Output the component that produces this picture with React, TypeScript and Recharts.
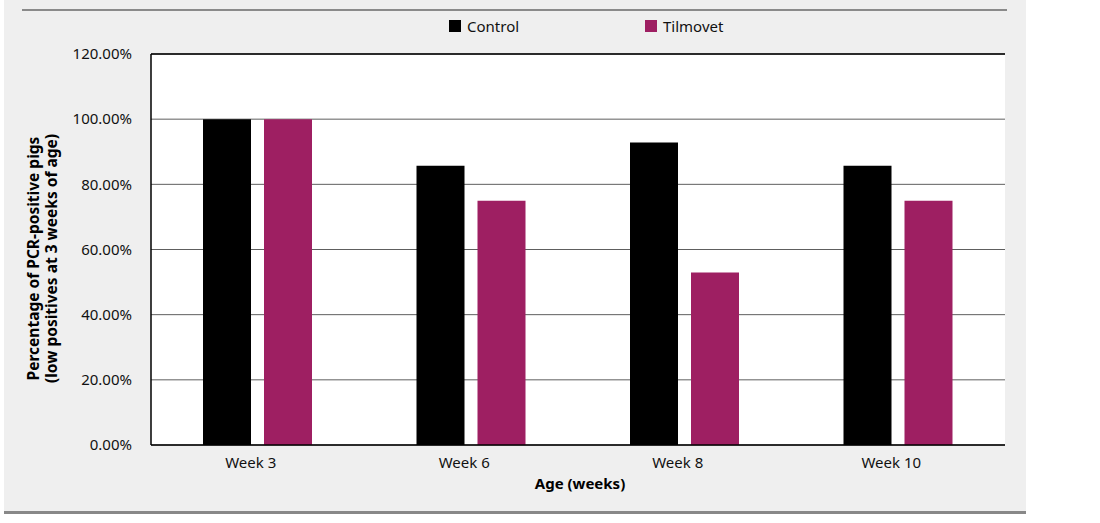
import React from 'react';
import { BarChart, Bar, XAxis, YAxis, CartesianGrid, ReferenceLine, Legend } from 'recharts';

const categories = ['Week 3', 'Week 6', 'Week 8', 'Week 10'];
const controlValues = [100, 85.71, 92.86, 85.71];
const tilmovetValues = [100, 75, 52.94, 75];
const yTicks = [0, 20, 40, 60, 80, 100, 120];

const data = categories.map((c, i) => ({ week: c, control: controlValues[i], tilmovet: tilmovetValues[i] }));

const FONT = '"Noto Sans", "Open Sans", sans-serif';
const CONTROL_COLOR = '#000000';
const TILMOVET_COLOR = '#9e1f62';

const legendItems = [
  { name: 'Control', color: CONTROL_COLOR, left: 449 },
  { name: 'Tilmovet', color: TILMOVET_COLOR, left: 645 },
];

const LegendContent = () => (
  <div style={{ position: 'relative', height: 0, width: 1100 }}>
    {legendItems.map((it) => (
      <div
        key={it.name}
        style={{
          position: 'absolute',
          left: it.left,
          top: 0,
          display: 'flex',
          alignItems: 'center',
          fontFamily: FONT,
          fontSize: 15,
          color: '#111',
          whiteSpace: 'nowrap',
          lineHeight: '20px',
        }}
      >
        <span style={{ display: 'inline-block', width: 12, height: 12, background: it.color, marginRight: 6 }} />
        {it.name}
      </div>
    ))}
  </div>
);

const YLabel = (props: any) => {
  const vb = props.viewBox || { x: 0, y: 54, width: 151, height: 391 };
  const cy = vb.y + vb.height / 2 + 9;
  return (
    <g>
      <text
        x={33}
        y={cy}
        transform={`rotate(-90 33 ${cy})`}
        textAnchor="middle"
        dominantBaseline="central"
        fontFamily={FONT}
        fontSize={15.5}
        fontWeight="bold"
        fill="#000"
      >
        Percentage of PCR-positive pigs
      </text>
      <text
        x={51}
        y={cy}
        transform={`rotate(-90 51 ${cy})`}
        textAnchor="middle"
        dominantBaseline="central"
        fontFamily={FONT}
        fontSize={15.5}
        fontWeight="bold"
        fill="#000"
      >
        (low positives at 3 weeks of age)
      </text>
    </g>
  );
};

const XLabel = (props: any) => {
  const vb = props.viewBox || { x: 151, y: 445, width: 854, height: 78 };
  return (
    <text
      x={vb.x + vb.width / 2 + 2}
      y={483}
      textAnchor="middle"
      dominantBaseline="central"
      fontFamily={FONT}
      fontSize={15}
      fontWeight="bold"
      fill="#000"
    >
      Age (weeks)
    </text>
  );
};

export default function App() {
  return (
    <div style={{ position: 'absolute', left: 0, top: 0, width: 1100, height: 523, background: '#ffffff', overflow: 'hidden' }}>
      <div
        style={{
          position: 'absolute',
          left: 4,
          top: 0,
          width: 1022,
          height: 511,
          background: '#efefef',
          borderBottom: '3px solid #888888',
        }}
      />
      <div style={{ position: 'absolute', left: 22, top: 9, width: 985, height: 2, background: '#8a8a8a' }} />
      <div style={{ position: 'absolute', left: 0, top: 0 }}>
        <BarChart
          width={1100}
          height={523}
          data={data}
          margin={{ top: 54, right: 95, bottom: 0, left: 0 }}
          barSize={48}
          barGap={13}
        >
          <CartesianGrid vertical={false} stroke="#5e5e5e" fill="#ffffff" yAxisId="left" />
          <Legend
            verticalAlign="top"
            align="left"
            content={<LegendContent />}
            wrapperStyle={{ top: 16, left: 0, height: 0 }}
          />
          <XAxis
            dataKey="week"
            height={78}
            tickLine={false}
            tickSize={0}
            tickMargin={12}
            axisLine={{ stroke: '#000', strokeWidth: 1.5 }}
            tick={{ fontFamily: FONT, fontSize: 15, fill: '#111', dx: -7 }}
            label={<XLabel />}
          />
          <YAxis
            yAxisId="left"
            width={151}
            domain={[0, 120]}
            ticks={yTicks}
            interval={0}
            tickLine={false}
            tickSize={0}
            tickMargin={19}
            axisLine={{ stroke: '#000', strokeWidth: 1.5 }}
            tickFormatter={(v: number) => v.toFixed(2) + '%'}
            tick={{ fontFamily: FONT, fontSize: 15, fill: '#111' }}
            label={<YLabel />}
          />
          <YAxis
            yAxisId="right"
            orientation="right"
            width={0}
            domain={[0, 120]}
            tick={false}
            tickLine={false}
            axisLine={{ stroke: '#000', strokeWidth: 1.5 }}
          />
          <ReferenceLine yAxisId="left" y={120} stroke="#000" strokeWidth={1.5} />
          <Bar yAxisId="left" dataKey="control" name="Control" fill={CONTROL_COLOR} isAnimationActive={false} />
          <Bar yAxisId="left" dataKey="tilmovet" name="Tilmovet" fill={TILMOVET_COLOR} isAnimationActive={false} />
        </BarChart>
      </div>
    </div>
  );
}
